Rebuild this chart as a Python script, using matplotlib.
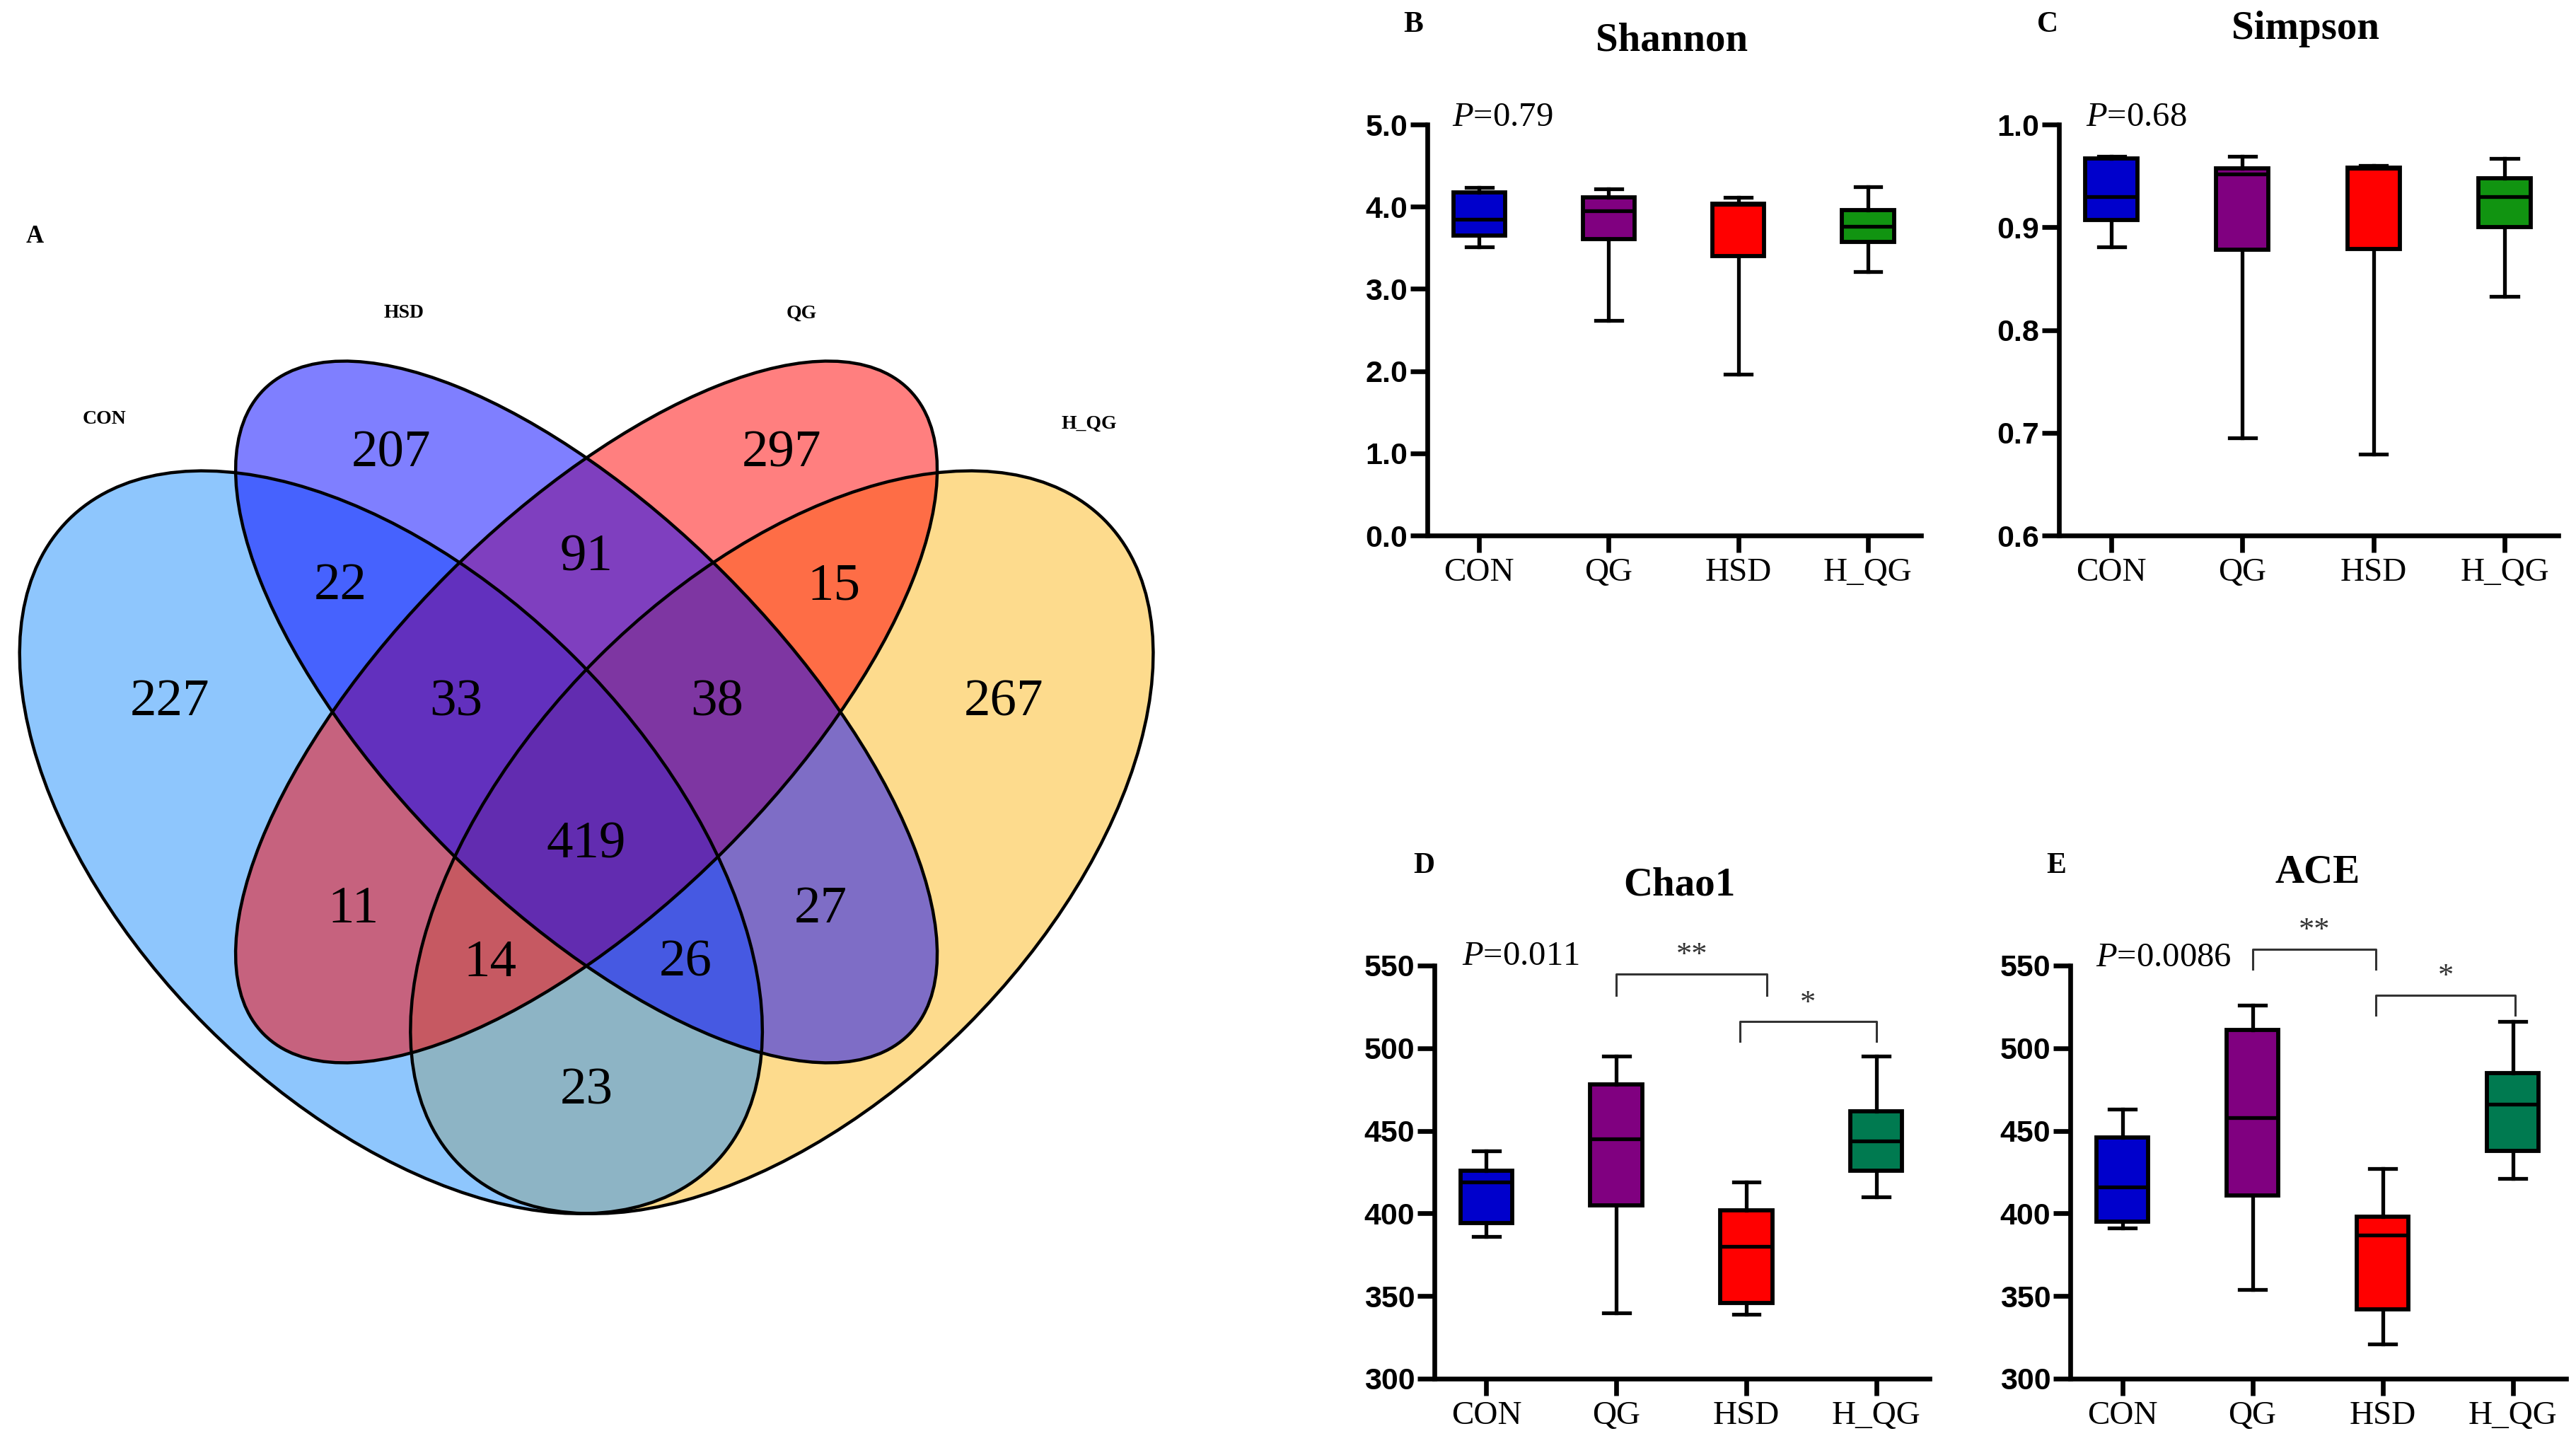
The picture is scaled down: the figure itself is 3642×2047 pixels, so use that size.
import numpy as np
import matplotlib.pyplot as plt
from matplotlib.patches import Ellipse

plt.rcParams['font.family'] = ['Liberation Serif', 'DejaVu Serif']
plt.rcParams['mathtext.fontset'] = 'custom'
plt.rcParams['mathtext.rm'] = 'Liberation Serif'
plt.rcParams['mathtext.it'] = 'Liberation Serif:italic'

# ---- data ----
groups = ['CON', 'QG', 'HSD', 'H_QG']

shannon_min = [3.51, 2.62, 1.96, 3.21]
shannon_q1 = [3.65, 3.61, 3.40, 3.57]
shannon_med = [3.85, 3.95, 4.03, 3.76]
shannon_q3 = [4.17, 4.11, 4.04, 3.96]
shannon_max = [4.23, 4.22, 4.11, 4.24]

simpson_min = [0.881, 0.695, 0.679, 0.833]
simpson_q1 = [0.907, 0.878, 0.879, 0.900]
simpson_med = [0.930, 0.952, 0.957, 0.930]
simpson_q3 = [0.967, 0.957, 0.958, 0.948]
simpson_max = [0.969, 0.969, 0.960, 0.967]

chao1_min = [386, 340, 339, 410]
chao1_q1 = [394, 405, 346, 426]
chao1_med = [419, 445, 380, 444]
chao1_q3 = [426, 478, 402, 462]
chao1_max = [438, 495, 419, 495]

ace_min = [391, 354, 321, 421]
ace_q1 = [395, 411, 342, 438]
ace_med = [416, 458, 387, 466]
ace_q3 = [446, 511, 398, 485]
ace_max = [463, 526, 427, 516]

p_values = ['0.79', '0.68', '0.011', '0.0086']

# significance brackets: (x1, x2, y_bar, y_tick_end, y_star, label)
chao1_sig = [(1, 2.16, 545, 532, 556, '**'), (1.95, 3, 516, 504, 527, '*')]
ace_sig = [(1, 1.95, 560, 548, 571, '**'), (1.95, 3.02, 532, 520, 543, '*')]

venn_sets = ['CON', 'HSD', 'QG', 'H_QG']
venn_regions = ['CON', 'HSD', 'QG', 'H_QG', 'CON&HSD', 'HSD&QG', 'QG&H_QG',
                'CON&HSD&QG', 'HSD&QG&H_QG', 'ALL', 'CON&QG', 'HSD&H_QG',
                'CON&QG&H_QG', 'CON&HSD&H_QG', 'CON&H_QG']
venn_counts = [227, 207, 297, 267, 22, 91, 15, 33, 38, 419, 11, 27, 14, 26, 23]

# ---- layout ----
W, H = 3642, 2047
fig = plt.figure(figsize=(W / 100, H / 100), dpi=100)

def fx(x):
    return x / W

def fy(y):
    return 1 - y / H

# Venn panel
vax = fig.add_axes([0, 0, 0.5, 1])
vax.set_xlim(0.0499, 0.0499 + 1821 / 1842)
vax.set_ylim(1.1164 - 2047 / 1842, 1.1164)
vax.axis('off')

ell = {
    'CON': ((0.35, 0.47), 0.70, 0.40, -45, '#1F8FFD'),
    'HSD': ((0.50, 0.57), 0.70, 0.30, -45, '#0000FF'),
    'QG': ((0.50, 0.57), 0.70, 0.30, 45, '#FF0000'),
    'H_QG': ((0.65, 0.47), 0.70, 0.40, 45, '#FDB91D'),
}
for name in ['H_QG', 'CON', 'QG', 'HSD']:
    c, w, h, a, col = ell[name]
    vax.add_patch(Ellipse(c, w, h, angle=a, facecolor=col, alpha=0.5, lw=0))
for name in venn_sets:
    c, w, h, a, col = ell[name]
    vax.add_patch(Ellipse(c, w, h, angle=a, facecolor='none', edgecolor='black', lw=3.2))

region_pos = {
    'CON': (0.18, 0.577), 'HSD': (0.35, 0.768), 'QG': (0.65, 0.768), 'H_QG': (0.82, 0.577),
    'CON&HSD': (0.311, 0.666), 'HSD&QG': (0.50, 0.688), 'QG&H_QG': (0.69, 0.666),
    'CON&HSD&QG': (0.40, 0.577), 'HSD&QG&H_QG': (0.60, 0.577), 'ALL': (0.50, 0.468),
    'CON&QG': (0.321, 0.418), 'HSD&H_QG': (0.68, 0.418),
    'CON&QG&H_QG': (0.426, 0.377), 'CON&HSD&H_QG': (0.576, 0.377), 'CON&H_QG': (0.50, 0.279),
}
for r, n in zip(venn_regions, venn_counts):
    x, y = region_pos[r]
    vax.text(x, y, str(n), ha='center', va='center', fontsize=54)

cat_pos = {'CON': (0.130, 0.795), 'HSD': (0.360, 0.876), 'QG': (0.665, 0.876), 'H_QG': (0.886, 0.791)}
for name in venn_sets:
    x, y = cat_pos[name]
    vax.text(x, y, name, ha='center', va='center', fontsize=20, fontweight='bold')
vax.text(0.0764, 0.935, 'A', ha='center', va='center', fontsize=25, fontweight='bold')

# box plot panels
box_colors_top = ['#0000CC', '#800080', '#FF0000', '#119411']
box_colors_bot = ['#0000CC', '#800080', '#FF0000', '#007A50']

panels = [
    dict(rect=(2018, 176, 2716, 757), data=(shannon_min, shannon_q1, shannon_med, shannon_q3, shannon_max),
         ylim=(0, 5), ticks=np.arange(0, 5.01, 1.0), fmt='%.1f', colors=box_colors_top,
         letter='B', lpos=(1998, 35), title='Shannon', tpos=(2364, 57), p=p_values[0], ppos=(2053, 166), sig=[]),
    dict(rect=(2911, 176, 3617, 757), data=(simpson_min, simpson_q1, simpson_med, simpson_q3, simpson_max),
         ylim=(0.6, 1.0), ticks=np.arange(0.6, 1.001, 0.1), fmt='%.1f', colors=box_colors_top,
         letter='C', lpos=(2895, 35), title='Simpson', tpos=(3260, 41), p=p_values[1], ppos=(2949, 166), sig=[]),
    dict(rect=(2028, 1365, 2728, 1949), data=(chao1_min, chao1_q1, chao1_med, chao1_q3, chao1_max),
         ylim=(300, 550), ticks=np.arange(300, 551, 50), fmt='%d', colors=box_colors_bot,
         letter='D', lpos=(2013, 1224), title='Chao1', tpos=(2374, 1252), p=p_values[2], ppos=(2067, 1352), sig=chao1_sig),
    dict(rect=(2927, 1365, 3628, 1949), data=(ace_min, ace_q1, ace_med, ace_q3, ace_max),
         ylim=(300, 550), ticks=np.arange(300, 551, 50), fmt='%d', colors=box_colors_bot,
         letter='E', lpos=(2907, 1224), title='ACE', tpos=(3277, 1234), p=p_values[3], ppos=(2963, 1354), sig=ace_sig),
]

for pnl in panels:
    x0, y0, x1, y1 = pnl['rect']
    ax = fig.add_axes([fx(x0), fy(y1), (x1 - x0) / W, (y1 - y0) / H])
    mn, q1, md, q3, mx = pnl['data']
    stats = [dict(whislo=mn[i], q1=q1[i], med=md[i], q3=q3[i], whishi=mx[i], label=groups[i])
             for i in range(len(groups))]
    bp = ax.bxp(stats, positions=range(len(groups)), widths=0.4, capwidths=0.2,
                patch_artist=True, showfliers=False,
                boxprops=dict(linewidth=4.2, edgecolor='black'),
                whiskerprops=dict(linewidth=3.8, color='black'),
                capprops=dict(linewidth=3.8, color='black'),
                medianprops=dict(linewidth=3.8, color='black'))
    for patch, col in zip(bp['boxes'], pnl['colors']):
        patch.set_facecolor(col)
    ax.set_xlim(-0.4, 3.41)
    ax.set_ylim(*pnl['ylim'])
    ax.set_yticks(pnl['ticks'])
    ax.set_yticklabels([pnl['fmt'] % t for t in pnl['ticks']],
                       fontfamily='Liberation Sans', fontweight='bold', fontsize=31)
    ax.set_xticks(range(len(groups)))
    ax.set_xticklabels(groups, fontsize=34)
    for s in ['top', 'right']:
        ax.spines[s].set_visible(False)
    for s in ['left', 'bottom']:
        ax.spines[s].set_linewidth(4.8)
    ax.tick_params(axis='both', length=17, width=4.8)
    ax.tick_params(axis='y', pad=3)
    ax.tick_params(axis='x', pad=6)
    ax.patch.set_alpha(0)

    for (a1, a2, yb, yt, ys, lab) in pnl['sig']:
        ax.plot([a1, a1, a2, a2], [yt, yb, yb, yt], color='#333333', lw=2.2, clip_on=False)
        ax.text((a1 + a2) / 2, ys, lab, ha='center', va='center', fontsize=32, color='#333333', clip_on=False)

    fig.text(fx(pnl['lpos'][0]), fy(pnl['lpos'][1]), pnl['letter'], ha='center', va='center',
             fontsize=30, fontweight='bold')
    fig.text(fx(pnl['tpos'][0]), fy(pnl['tpos'][1]), pnl['title'], ha='center', va='center',
             fontsize=41, fontweight='bold')
    fig.text(fx(pnl['ppos'][0]), fy(pnl['ppos'][1]), r'$\mathit{P}$=' + pnl['p'], ha='left', va='center',
             fontsize=35)

fig.savefig('out.png', dpi=100)
